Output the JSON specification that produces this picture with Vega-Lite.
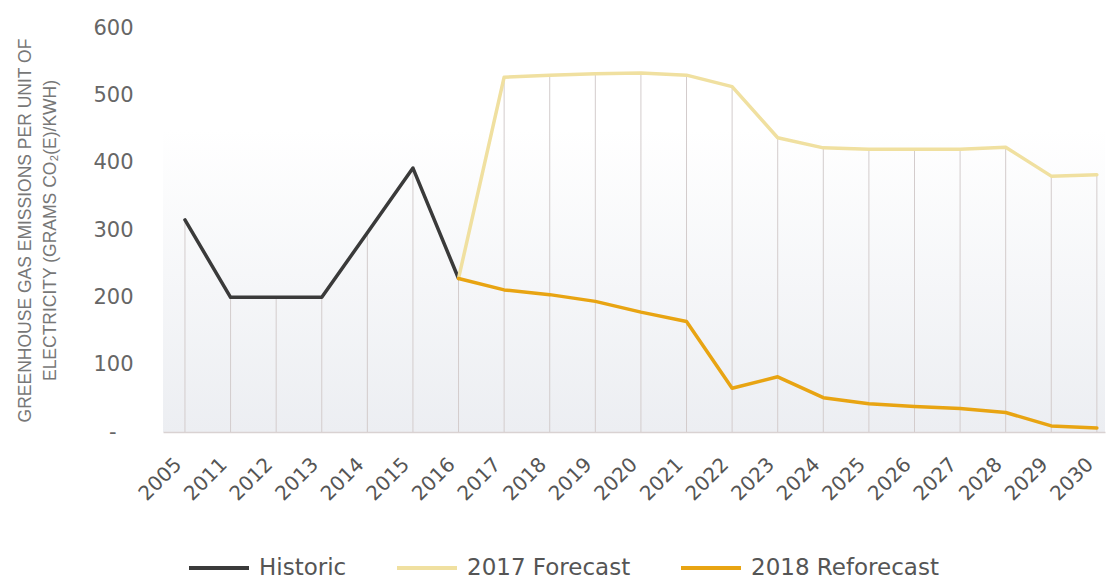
{
  "$schema": "https://vega.github.io/schema/vega-lite/v6.json",
  "width": 942,
  "height": 404,
  "autosize": {"type": "none"},
  "padding": {"left": 163, "top": 28, "right": 4, "bottom": 148},
  "background": "white",
  "config": {
    "font": "DejaVu Sans",
    "view": {
      "stroke": null,
      "fill": {
        "gradient": "linear", "x1": 0, "y1": 0, "x2": 0, "y2": 1,
        "stops": [
          {"offset": 0, "color": "#ffffff"},
          {"offset": 0.25, "color": "#ffffff"},
          {"offset": 1, "color": "#eceef2"}
        ]
      }
    }
  },
  "data": {
    "values": [
      {"year": "2005", "series": "Historic", "value": 315},
      {"year": "2011", "series": "Historic", "value": 200},
      {"year": "2012", "series": "Historic", "value": 200},
      {"year": "2013", "series": "Historic", "value": 200},
      {"year": "2014", "series": "Historic", "value": 296},
      {"year": "2015", "series": "Historic", "value": 392},
      {"year": "2016", "series": "Historic", "value": 228},
      {"year": "2016", "series": "2017 Forecast", "value": 228},
      {"year": "2017", "series": "2017 Forecast", "value": 527},
      {"year": "2018", "series": "2017 Forecast", "value": 530},
      {"year": "2019", "series": "2017 Forecast", "value": 532},
      {"year": "2020", "series": "2017 Forecast", "value": 533},
      {"year": "2021", "series": "2017 Forecast", "value": 530},
      {"year": "2022", "series": "2017 Forecast", "value": 513},
      {"year": "2023", "series": "2017 Forecast", "value": 437},
      {"year": "2024", "series": "2017 Forecast", "value": 422},
      {"year": "2025", "series": "2017 Forecast", "value": 420},
      {"year": "2026", "series": "2017 Forecast", "value": 420},
      {"year": "2027", "series": "2017 Forecast", "value": 420},
      {"year": "2028", "series": "2017 Forecast", "value": 423},
      {"year": "2029", "series": "2017 Forecast", "value": 380},
      {"year": "2030", "series": "2017 Forecast", "value": 382},
      {"year": "2016", "series": "2018 Reforecast", "value": 228},
      {"year": "2017", "series": "2018 Reforecast", "value": 211},
      {"year": "2018", "series": "2018 Reforecast", "value": 204},
      {"year": "2019", "series": "2018 Reforecast", "value": 194},
      {"year": "2020", "series": "2018 Reforecast", "value": 178},
      {"year": "2021", "series": "2018 Reforecast", "value": 164},
      {"year": "2022", "series": "2018 Reforecast", "value": 65},
      {"year": "2023", "series": "2018 Reforecast", "value": 82},
      {"year": "2024", "series": "2018 Reforecast", "value": 51},
      {"year": "2025", "series": "2018 Reforecast", "value": 42},
      {"year": "2026", "series": "2018 Reforecast", "value": 38},
      {"year": "2027", "series": "2018 Reforecast", "value": 35},
      {"year": "2028", "series": "2018 Reforecast", "value": 29},
      {"year": "2029", "series": "2018 Reforecast", "value": 9},
      {"year": "2030", "series": "2018 Reforecast", "value": 6}
    ]
  },
  "layer": [
    {
      "transform": [
        {"aggregate": [{"op": "max", "field": "value", "as": "top"}], "groupby": ["year"]}
      ],
      "mark": {"type": "rule", "color": "#d3cccc", "strokeWidth": 1},
      "encoding": {
        "x": {
          "field": "year", "type": "ordinal",
          "scale": {"type": "point", "domain": ["2005","2011","2012","2013","2014","2015","2016","2017","2018","2019","2020","2021","2022","2023","2024","2025","2026","2027","2028","2029","2030"], "padding": 0.33, "align": 0.73},
          "axis": {"title": null, "labelAngle": -45, "labelAlign": "right", "labelBaseline": "bottom", "labelFontSize": 20, "labelColor": "#555555", "ticks": false, "grid": false, "domainColor": "#d9d2d2", "domainWidth": 1.5, "labelPadding": 36}
        },
        "y": {
          "field": "top", "type": "quantitative",
          "scale": {"domain": [0, 600]},
          "axis": {
            "title": ["GREENHOUSE GAS EMISSIONS PER UNIT OF", "ELECTRICITY (GRAMS CO₂(E)/KWH)"],
            "titleFont": "Liberation Sans", "titleFontSize": 17.5, "titleFontWeight": "normal", "titleColor": "#777777", "titleLineHeight": 25, "titlePadding": 33,
            "values": [0, 100, 200, 300, 400, 500, 600],
            "labelExpr": "datum.value == 0 ? '-' : datum.label",
            "labelFontSize": 21, "labelColor": "#666666",
            "labelPadding": {"condition": {"test": "datum.value == 0", "value": 47}, "value": 30},
            "ticks": false, "domain": false, "grid": false
          }
        },
        "y2": {"datum": 0}
      }
    },
    {
      "mark": {"type": "line", "strokeWidth": 3.5, "strokeCap": "round", "strokeJoin": "round"},
      "encoding": {
        "x": {"field": "year", "type": "ordinal"},
        "y": {"field": "value", "type": "quantitative"},
        "color": {
          "field": "series", "type": "nominal",
          "scale": {"domain": ["Historic", "2017 Forecast", "2018 Reforecast"], "range": ["#3a3a3a", "#f0e0a0", "#e8a412"]},
          "legend": {
            "orient": "none", "legendX": 24, "legendY": 508, "direction": "horizontal", "title": null,
            "symbolType": "stroke", "symbolSize": 3600, "symbolStrokeWidth": 4,
            "labelFontSize": 23, "labelColor": "#555555", "labelFont": "DejaVu Sans", "labelLimit": 400, "labelOffset": 8, "columnPadding": 42
          }
        }
      }
    }
  ]
}
